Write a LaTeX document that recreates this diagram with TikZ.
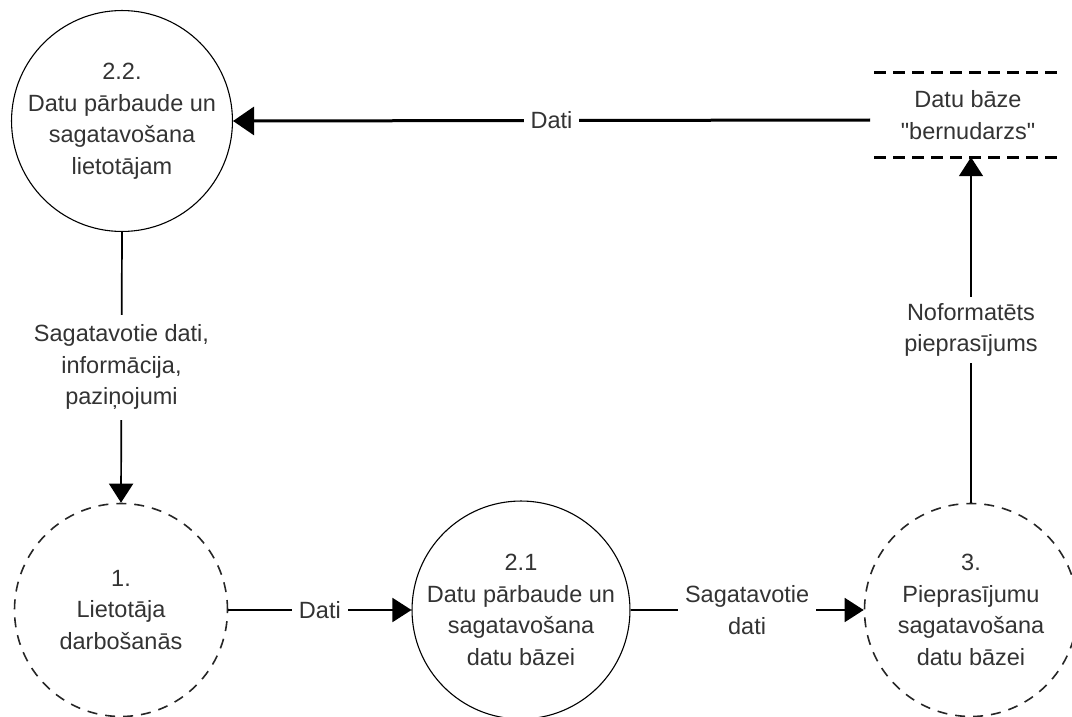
\documentclass[tikz,border=0pt]{standalone}
\usepackage{fontspec}
\setmainfont{Liberation Sans}[Ligatures=TeXOff]
\usetikzlibrary{arrows.meta}
\definecolor{txt}{HTML}{333333}
\tikzset{
  proc/.style={circle, draw=black, line width=1.1pt, minimum size=213pt, inner sep=0pt, align=center, text=txt},
  ext/.style={proc, dash pattern=on 10pt off 8pt, line width=1.6pt, draw=black!85},
  store/.style={rectangle, minimum width=187pt, minimum height=84pt, inner sep=0pt, align=center, text=txt},
  storeline/.style={line width=2.6pt, dash pattern=on 12pt off 7pt},
  flow/.style={line width=1.7pt, -{Triangle[length=19pt,width=24pt]}},
  bigflow/.style={line width=3pt, -{Triangle[length=21pt,width=28pt]}},
  lbl/.style={fill=white, text=txt, align=center, inner xsep=7pt, inner ysep=6pt}
}
\begin{document}
\begin{tikzpicture}[x=1pt,y=-1pt,font=\fontsize{23.5}{31.5}\selectfont]
\useasboundingbox (0,0) rectangle (1072,717);
\node[proc] (p22) at (122,121) {2.2.\\Datu pārbaude un\\sagatavošana\\lietotājam};
\node[ext] (p1) at (121,610) {1.\\Lietotāja\\darbošanās};
\node[proc] (p21) at (521,610) {2.1\\Datu pārbaude un\\sagatavošana\\datu bāzei};
\node[ext] (p3) at (971,610) {3.\\Pieprasījumu\\sagatavošana\\datu bāzei};
\node[store] (db) at (968,115) {Datu bāze\\"bernudarzs"};
\draw[storeline] (db.north west) -- (db.north east);
\draw[storeline] (db.south west) -- (db.south east);
\coordinate (dbw) at (870,120);
\draw[bigflow] (dbw) -- node[lbl] {Dati} (p22.east);
\draw[flow] (p22.south) -- node[lbl, inner ysep=10pt] {Sagatavotie dati,\\informācija,\\paziņojumi} (p1.north);
\draw[flow] (p1.east) -- node[lbl] {Dati} (p21.west);
\draw[flow] (p21.east) -- node[lbl] {Sagatavotie\\dati} (p3.west);
\draw[flow] (p3.north) -- node[lbl] {Noformatēts\\pieprasījums} (p3.north |- db.south);
\end{tikzpicture}
\end{document}
